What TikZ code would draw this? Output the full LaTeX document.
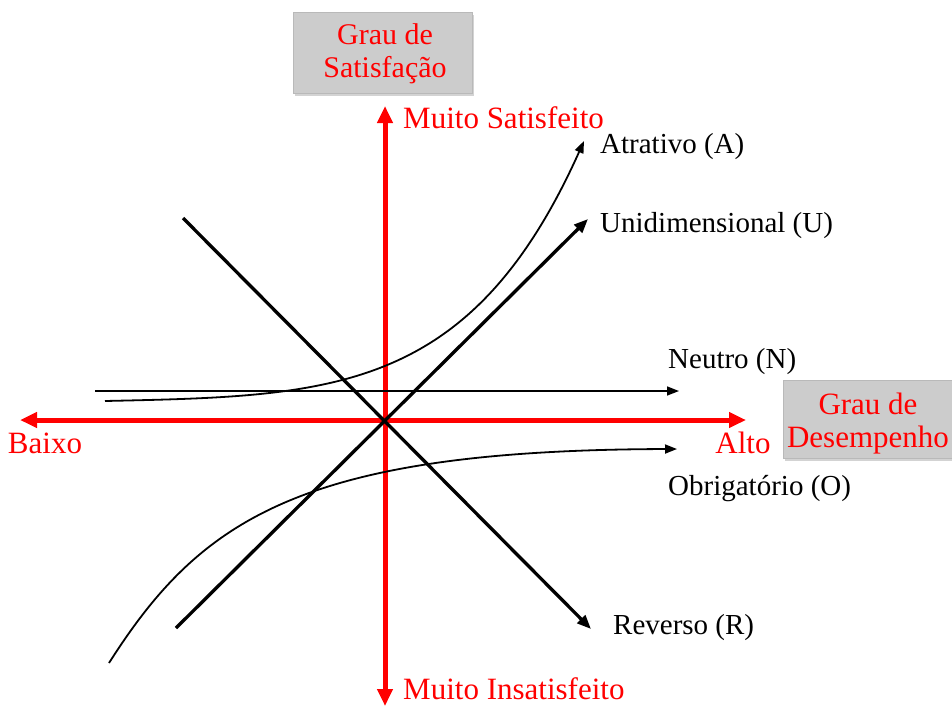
\documentclass[tikz,border=0pt]{standalone}
\usepackage{fontspec}
\setmainfont{Liberation Serif}
\usetikzlibrary{arrows.meta,shadows}
\definecolor{boxgray}{RGB}{204,204,204}
\tikzset{
  axis/.style={draw=red, line width=5pt, {Triangle[length=17pt,width=15pt]}-{Triangle[length=17pt,width=15pt]}},
  thickline/.style={draw=black, line width=3.3pt, -{Triangle[length=14pt,width=11pt]}},
  thinline/.style={draw=black, line width=1.8pt, -{Triangle[length=12pt,width=9pt]}},
  greybox/.style={fill=boxgray, draw=gray!55, line width=1pt, drop shadow={shadow xshift=2pt, shadow yshift=-3pt, opacity=0.35}},
  redtxt/.style={text=red, font=\fontsize{31}{33}\selectfont, inner sep=0pt},
  blktxt/.style={text=black, font=\fontsize{29}{33}\selectfont, inner sep=0pt, anchor=west},
}
\begin{document}
\begin{tikzpicture}[x=1pt,y=-1pt]
\useasboundingbox (0,0) rectangle (952,707);
% grey boxes
\node[greybox, minimum width=179pt, minimum height=81pt, inner sep=0pt] (bs) at (382.5,52.5) {};
\node[redtxt, align=center, font=\fontsize{30}{33}\selectfont] (ts) at (385,54) {Grau de\\Satisfação};
\begin{scope}
\clip (0,0) rectangle (952,707);
\node[greybox, minimum width=180pt, minimum height=78pt, inner sep=0pt] (bd) at (873,419) {};
\end{scope}
\node[redtxt, align=center] (td) at (868,424) {Grau de\\Desempenho};
% axes
\coordinate (vt) at (385,106);
\coordinate (vb) at (385,706);
\coordinate (hl) at (20,420);
\coordinate (hr) at (746,420);
\coordinate (O) at (385,420);
\draw[axis] (vb) -- (vt);
\draw[axis] (hl) -- (hr);
% straight lines
\coordinate (rs) at (183,218);
\coordinate (re) at (591,629);
\coordinate (us) at (176,628);
\coordinate (ue) at (588,219);
\draw[thickline] (rs) -- (re);
\draw[thickline] (us) -- (ue);
\coordinate (ns) at (95,391);
\coordinate (ne) at (679,391);
\draw[thinline, line width=1.5pt] (ns) -- (ne);
% Atrativo curve
\coordinate (as) at (105,401);
\coordinate (ae) at (584,141);
\draw[thinline] (as) .. controls (330,396) and (470,395) .. (ae);
% Obrigatorio curve
\coordinate (os) at (109,663);
\coordinate (oe) at (677,449);
\draw[thinline] (os) .. controls (200,520) and (300,450) .. (oe);
% labels
\node[redtxt, anchor=west] (ms) at (403,118) {Muito Satisfeito};
\node[redtxt, anchor=west] (mi) at (403,689) {Muito Insatisfeito};
\node[redtxt] (bx) at (45,443) {Baixo};
\node[redtxt] (al) at (743,443) {Alto};
\node[blktxt] (la) at (600,147) {Atrativo (A)};
\node[blktxt] (lu) at (600,226) {Unidimensional (U)};
\node[blktxt] (ln) at (668,362) {Neutro (N)};
\node[blktxt] (lo) at (668,489) {Obrigatório (O)};
\node[blktxt] (lr) at (613,628) {Reverso (R)};
\end{tikzpicture}
\end{document}
